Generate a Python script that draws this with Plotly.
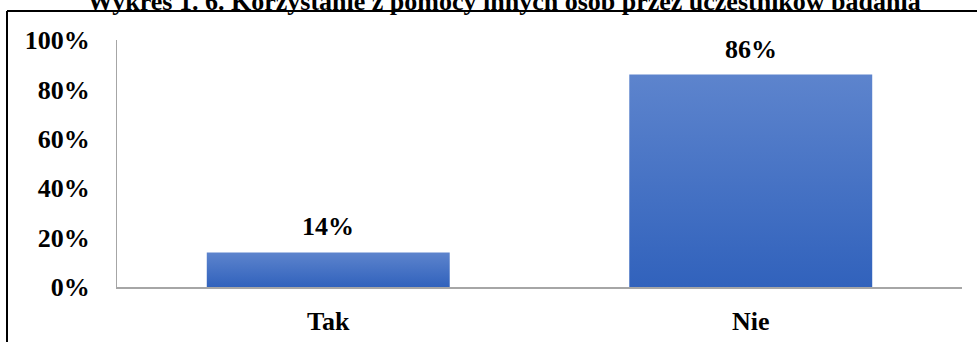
import plotly.graph_objects as go

# Survey answers and their shares
categories = ["Tak", "Nie"]
shares = [0.14, 0.86]
y_ticks = [0, 0.2, 0.4, 0.6, 0.8, 1.0]
title_text = "Wykres 1. 6. Korzystanie z pomocy innych osób przez uczestników badania"

W, H = 977, 342
ML, MR, MT, MB = 117, 15, 40, 55
PW, PH = W - ML - MR, H - MT - MB
BAR_W = 0.575
FONT = "Liberation Serif, Times New Roman, serif"
FS = 26


def px_x(px):
    return (px - ML) / PW


def px_y(py):
    return (H - MB - py) / PH


fig = go.Figure()

# Bars drawn as filled polygons so each one gets its own vertical gradient
for i, (cat, val) in enumerate(zip(categories, shares)):
    x0, x1 = i - BAR_W / 2, i + BAR_W / 2
    fig.add_trace(go.Scatter(
        x=[x0, x1, x1, x0, x0],
        y=[0, 0, val, val, 0],
        mode="none",
        fill="toself",
        fillgradient=dict(type="vertical",
                          colorscale=[[0, "#3162bc"], [1, "#5d84cd"]]),
        hoverinfo="skip",
        showlegend=False,
    ))
    fig.add_annotation(
        x=i, y=val, xref="x", yref="y",
        text=f"<b>{val:.0%}</b>", showarrow=False,
        yanchor="bottom", yshift=9,
        font=dict(family=FONT, size=FS, color="black"),
    )

fig.update_xaxes(
    range=[-0.5, len(categories) - 0.5],
    tickvals=list(range(len(categories))),
    ticktext=[f"<b>{c}</b>" for c in categories],
    showgrid=False, zeroline=False,
    showline=True, linecolor="#a6a6a6", linewidth=2,
    ticks="", ticklabelstandoff=10, automargin=False,
    tickfont=dict(family=FONT, size=FS, color="black"),
    fixedrange=True,
)
fig.update_yaxes(
    range=[0, 1],
    tickvals=y_ticks,
    ticktext=[f"<b>{t:.0%}</b>" for t in y_ticks],
    showgrid=False, zeroline=False,
    showline=True, linecolor="#a6a6a6", linewidth=1,
    ticks="", ticklabelstandoff=21, automargin=False,
    tickfont=dict(family=FONT, size=FS, color="black"),
    fixedrange=True,
)

# Outer frame (top and left edges)
frame_top = px_y(11)
frame_left = px_x(7)
fig.add_shape(type="line", xref="paper", yref="paper",
              x0=frame_left, x1=px_x(W + 5), y0=frame_top, y1=frame_top,
              line=dict(color="black", width=2))
fig.add_shape(type="line", xref="paper", yref="paper",
              x0=frame_left, x1=frame_left, y0=frame_top, y1=px_y(H + 5),
              line=dict(color="black", width=2))

fig.update_layout(
    width=W, height=H,
    margin=dict(l=ML, r=MR, t=MT, b=MB, autoexpand=False),
    paper_bgcolor="white", plot_bgcolor="white",
    title=dict(text=f"<b>{title_text}</b>", xref="paper", x=px_x(504),
               xanchor="center", yref="container", y=1 - 10 / H,
               yanchor="bottom",
               font=dict(family=FONT, size=FS, color="black")),
    showlegend=False,
)

fig.write_html("out.html")
